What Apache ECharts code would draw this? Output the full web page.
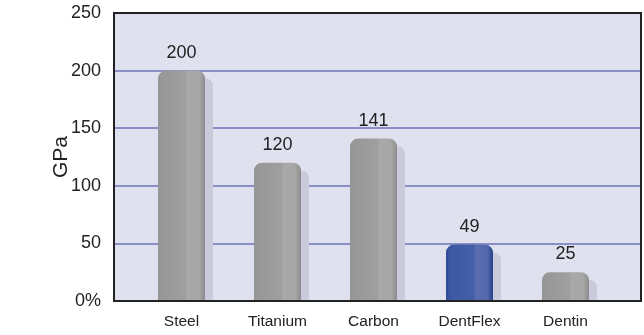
<!DOCTYPE html>
<html><head><meta charset="utf-8">
<script src="https://cdn.jsdelivr.net/npm/echarts@6/dist/echarts.min.js"></script>
<style>html,body{margin:0;padding:0;background:#fff}#c{width:644px;height:335px}</style>
</head><body><div id="c"></div>
<script>
var categories = ['Steel', 'Titanium', 'Carbon', 'DentFlex', 'Dentin'];
var values = [200, 120, 141, 49, 25];
var yTicks = ['0%', '50', '100', '150', '200', '250'];
var highlight = 'DentFlex';

var chart = echarts.init(document.getElementById('c'));
var TOP = 13, BOTTOM = 34, H = 335 - TOP - BOTTOM;
var pxPerUnit = H / 250;
var shadowDrop = 8 / pxPerUnit;

function grayGrad(){
  return new echarts.graphic.LinearGradient(0,0,1,0,[
    {offset:0,color:'#969696'},{offset:0.6,color:'#a0a0a0'},
    {offset:0.62,color:'#a9a9a9'},{offset:0.88,color:'#a6a6a6'},{offset:1,color:'#8c8c8c'}]);
}
function blueGrad(){
  return new echarts.graphic.LinearGradient(0,0,1,0,[
    {offset:0,color:'#2c4a94'},{offset:0.08,color:'#3b58a3'},{offset:0.6,color:'#4560a8'},
    {offset:0.62,color:'#5a6db0'},{offset:0.88,color:'#5568ad'},{offset:1,color:'#25418a'}]);
}

var mainData = values.map(function(v,i){
  return {value:v, itemStyle:{color: categories[i]===highlight ? blueGrad() : grayGrad()}};
});
var shadowData = values.map(function(v){ return Math.max(v - shadowDrop, 0); });

var font = '"Liberation Sans", Arial, sans-serif';

chart.setOption({
  animation:false,
  graphic:[{type:'rect', z:100, silent:true,
    shape:{x:114, y:TOP, width:644-114-3, height:H},
    style:{fill:null, stroke:'#222', lineWidth:2}}],
  grid:[
    {left:114, right:3, top:TOP, bottom:BOTTOM, show:true, backgroundColor:'#dfe1ee', borderWidth:0, z:0},
    {left:133.5, right:30.5, top:TOP, bottom:BOTTOM},
    {left:141.5, right:22.5, top:TOP, bottom:BOTTOM}
  ],
  xAxis:[
    {gridIndex:0, type:'value', show:false, min:0, max:1},
    {gridIndex:1, type:'category', data:categories, axisLine:{show:false}, axisTick:{show:false},
     axisLabel:{color:'#222', fontSize:15.5, fontFamily:font, margin:13}},
    {gridIndex:2, type:'category', data:categories, show:false}
  ],
  yAxis:[
    {gridIndex:0, type:'value', min:0, max:250, interval:50,
     axisLine:{show:false}, axisTick:{show:false},
     axisLabel:{color:'#222', fontSize:18, fontFamily:font, margin:13,
       formatter:function(v){ return yTicks[Math.round(v/50)]; }},
     splitLine:{lineStyle:{color:'#8a8fc6', width:2}},
     name:'GPa', nameLocation:'middle', nameGap:42, nameRotate:90, nameMoveOverlap:false,
     nameTextStyle:{color:'#222', fontSize:21, fontFamily:font}},
    {gridIndex:1, type:'value', min:0, max:250, show:false},
    {gridIndex:2, type:'value', min:0, max:250, show:false}
  ],
  series:[
    {type:'bar', xAxisIndex:2, yAxisIndex:2, data:shadowData, barWidth:47, z:1, silent:true,
     itemStyle:{color:'#c9cbda', borderRadius:[7,7,0,0]}},
    {type:'bar', xAxisIndex:1, yAxisIndex:1, data:mainData, barWidth:47, z:2,
     itemStyle:{borderRadius:[8,8,0,0]},
     label:{show:true, position:'top', distance:9, color:'#222', fontSize:18, fontFamily:font}}
  ]
});
</script></body></html>
